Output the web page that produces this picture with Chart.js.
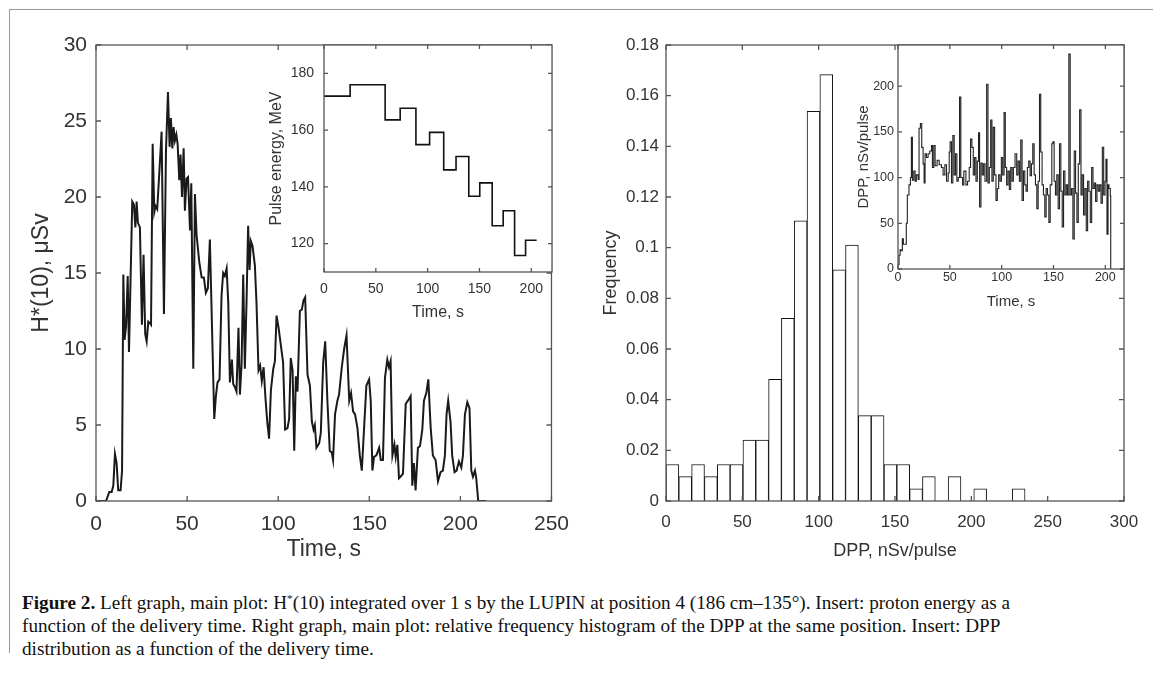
<!DOCTYPE html>
<html>
<head>
<meta charset="utf-8">
<script src="https://cdn.jsdelivr.net/npm/chart.js@4.4.0/dist/chart.umd.min.js"></script>
<style>
  html, body { margin: 0; padding: 0; background: #fff; }
  body { width: 1153px; height: 682px; position: relative; overflow: hidden; }
  canvas { position: absolute; }
  #frame { position: absolute; left: 9px; top: 9px; width: 1150px; height: 643px;
           border-top: 1.5px solid #9a9a9a; border-left: 1.5px solid #9a9a9a; }
  #caption { position: absolute; left: 22px; top: 592px; color: #111;
             font-family: "Liberation Serif", "Times New Roman", serif; font-size: 18.5px; line-height: 23px; }
  #caption div { white-space: nowrap; transform-origin: 0 50%; width: max-content; }
  #caption sup { font-size: 11px; line-height: 0; }
</style>
</head>
<body>
<div id="frame"></div>
<canvas id="doseChart" width="580" height="580" style="left:0;top:0;z-index:1"></canvas>
<canvas id="energyChart" width="340" height="330" style="left:230px;top:0;z-index:2"></canvas>
<canvas id="histChart" width="573" height="580" style="left:580px;top:0;z-index:1"></canvas>
<canvas id="dppChart" width="323" height="320" style="left:830px;top:0;z-index:2"></canvas>
<div id="caption">
  <div><b>Figure 2.</b> Left graph, main plot: H<sup>*</sup>(10) integrated over 1 s by the LUPIN at position 4 (186 cm–135°). Insert: proton energy as a</div>
  <div>function of the delivery time. Right graph, main plot: relative frequency histogram of the DPP at the same position. Insert: DPP</div>
  <div>distribution as a function of the delivery time.</div>
</div>
<script>
// H*(10) per second, main left plot
const doseTime = [
  0, 5.5, 7.3, 8.6, 9.5, 10.4, 11.3, 12.2, 13.5, 14.3,
  15, 15.7, 16.5, 17.4, 18.1, 19.9, 20.8, 21.6, 22.3, 23,
  24.1, 25.2, 26.1, 27, 27.8, 28.7, 29.6, 30.2, 31.1, 32,
  32.7, 33.6, 34.7, 36, 37.3, 38.4, 39.5, 40.4, 41.1, 41.9,
  42.6, 43.3, 44.1, 44.8, 45.7, 46.4, 47.2, 48.1, 48.8, 49.7,
  50.5, 51.6, 52.3, 53.4, 54.3, 55.2, 56.7, 58, 59.2, 60.3,
  61.4, 62.5, 64.9, 65.8, 66.7, 67.8, 68.9, 69.8, 70.7, 71.7,
  72.6, 73.5, 74.6, 75.3, 76.2, 77.1, 78.2, 79, 79.9, 80.8,
  81.7, 82.6, 83.5, 84.3, 85, 85.9, 87.2, 88.1, 89.2, 90.1,
  91, 92, 93, 94, 95, 96, 97.3, 98.2, 99.1, 100.2,
  102.7, 103.8, 105.1, 106, 106.9, 107.9, 108.8, 109.7, 110.6, 111.9,
  113, 113.9, 114.8, 116.1, 117.4, 118.5, 119.4, 120.1, 121, 122.5,
  123.4, 124.7, 125.8, 127, 128.3, 129.4, 130.1, 131.2, 132.5, 133.4,
  134.9, 136.2, 137.5, 139, 140, 141.1, 142.2, 143.5, 144.8, 145.9,
  147.1, 148.4, 149.9, 150.8, 151.7, 152.6, 153.9, 155.4, 156.3, 157.5,
  158.6, 159.9, 160.8, 161.7, 162.7, 163.8, 164.5, 165.4, 166.3, 167.2,
  168.5, 170, 171.2, 172.7, 173.6, 174.5, 175.4, 176.7, 177.8, 179.1,
  180, 181.3, 182.4, 183.7, 184.9, 186.4, 187.7, 189.1, 190.4, 191.5,
  192.4, 193.3, 194.6, 195.5, 196.8, 197.9, 199.2, 200.5, 201.4, 202.5,
  203.8, 205, 206, 206.9, 208, 208.7, 209.8, 214
];
const doseValue = [
  0, 0, 0.6, 0.6, 1.0, 3.1, 2.5, 0.7, 0.7, 2.0,
  14.9, 10.6, 11.5, 14.8, 9.8, 19.7, 19.5, 18.0, 19.7, 18.3,
  18.0, 11.6, 16.2, 11.0, 10.5, 11.8, 11.7, 11.6, 23.5, 19.0,
  19.4, 19.2, 21.5, 24.3, 12.3, 23.0, 26.9, 23.3, 25.2, 23.2,
  24.6, 23.7, 24.1, 23.5, 21.1, 22.8, 20.0, 23.2, 19.1, 21.2,
  21.3, 17.8, 20.9, 8.7, 20.2, 17.5, 15.7, 14.7, 14.7, 13.7,
  14.0, 17.2, 5.4, 6.9, 7.8, 8.0, 13.5, 15.0, 14.8, 15.3,
  13.0, 7.8, 9.3, 7.7, 7.5, 7.2, 11.4, 7.0, 9.0, 14.9,
  8.7, 13.0, 18.1, 15.2, 17.1, 16.8, 15.5, 13.0, 8.6, 8.9,
  7.9, 8.8, 6.8, 5.2, 4.1, 7.3, 8.7, 9.2, 12.2, 11.4,
  9.1, 4.7, 4.8, 5.4, 9.4, 8.6, 3.3, 8.2, 7.2, 12.5,
  12.6, 13.2, 13.4, 8.3, 7.6, 5.2, 4.7, 5.0, 3.5, 3.8,
  4.5, 9.1, 10.5, 6.6, 3.3, 3.2, 2.7, 5.7, 6.6, 7.0,
  8.8, 10.0, 10.9, 6.6, 7.1, 5.9, 5.7, 4.8, 3.0, 2.0,
  4.7, 7.6, 8.0, 6.6, 2.0, 2.9, 3.0, 3.5, 2.7, 2.7,
  8.1, 9.3, 8.8, 9.2, 3.0, 3.7, 2.9, 3.7, 1.5, 1.6,
  1.8, 6.4, 6.6, 6.9, 1.0, 2.5, 0.7, 3.5, 3.6, 4.7,
  6.6, 7.1, 8.0, 4.8, 3.0, 2.7, 1.3, 1.9, 2.0, 3.0,
  5.7, 6.6, 5.2, 3.0, 1.9, 2.0, 2.6, 2.2, 3.0, 5.7,
  6.5, 6.1, 2.0, 1.6, 2.0, 1.5, 0, 0
];
const doseTimeTicks = [0, 50, 100, 150, 200, 250];
const doseTicks = [0, 5, 10, 15, 20, 25, 30];

// pulse energy steps, left insert
const energyTime = [0, 25.2, 59, 73.5, 88.7, 101.9, 115.5, 127.4, 139.7, 150.3, 162.3, 172.9, 183.9, 194.5, 205.2];
const energyValue = [172, 176, 163.6, 167.7, 154.9, 159.2, 146, 150.7, 136.7, 141.4, 126.3, 131.6, 115.8, 121.2, 121.2];
const energyTimeTicks = [0, 50, 100, 150, 200];
const energyTicks = [120, 140, 160, 180];

// DPP histogram, right main plot (bin centres, bin width 8.4)
const dppBins = [4.2, 12.6, 21, 29.4, 37.8, 46.2, 54.6, 63, 71.4, 79.8, 88.2, 96.6, 105, 113.4,
  121.8, 130.2, 138.6, 147, 155.4, 163.8, 172.2, 180.6, 189, 197.4, 205.8, 214.2, 222.6, 231];
const dppFreq = [0.0144, 0.0096, 0.0144, 0.0096, 0.0144, 0.0144, 0.024, 0.024, 0.048, 0.0721, 0.1106, 0.1538, 0.1683, 0.0913,
  0.101, 0.0337, 0.0337, 0.0144, 0.0144, 0.0048, 0.0096, 0, 0.0096, 0, 0.0048, 0, 0, 0.0048];
const dppAxisTicks = [0, 50, 100, 150, 200, 250, 300];
const freqTicks = [0, 0.02, 0.04, 0.06, 0.08, 0.1, 0.12, 0.14, 0.16, 0.18];

// DPP against time, right insert
const dppTime = [
  0, 1, 2, 3, 4.2, 5.2, 6.5, 8, 9, 10.6,
  12, 12.9, 13.9, 15.2, 16.5, 17.7, 19.4, 20.3, 21.6, 22.9,
  24.2, 25.2, 26.1, 27.4, 29, 30.6, 32.3, 33.2, 34.5, 35.8,
  37.7, 39.7, 41.9, 43.5, 45.2, 46.8, 48.4, 49.4, 50.3, 51.6,
  52.9, 54.2, 55.5, 56.8, 58.1, 59.4, 60.6, 62.3, 63.5, 65.5,
  67.1, 68.7, 70, 71.3, 72.6, 73.9, 75.2, 76.5, 77.7, 78.7,
  80, 81.3, 82.6, 83.9, 85.5, 86.8, 88.1, 89.4, 90.6, 91.9,
  93.2, 94.5, 95.8, 97.1, 98.4, 99.7, 101, 102.3, 103.5, 104.8,
  106.1, 107.4, 108.7, 110, 111.3, 112.9, 114.5, 115.8, 117.1, 118.4,
  119.7, 121, 122.3, 123.5, 124.8, 126.1, 127.4, 128.7, 130, 131.3,
  132.6, 133.9, 135.2, 136.5, 137.7, 139, 140.3, 141.6, 142.9, 144.2,
  145.5, 146.8, 148.4, 149.4, 150.6, 151.9, 153.2, 154.5, 155.8, 157.1,
  158.4, 159.7, 161, 162.3, 163.5, 164.8, 166.1, 167.4, 168.7, 170,
  171.3, 172.6, 173.9, 175.2, 176.5, 177.7, 179, 180.3, 181.6, 182.9,
  184.2, 185.5, 186.8, 188.1, 189.4, 190.6, 191.9, 193.2, 194.5, 195.8,
  197.1, 198.4, 199.7, 200.6, 201.6, 202.6, 203.5, 204.8, 205.2
];
const dppValue = [
  5, 15, 21, 20, 33, 27, 27, 50, 81, 92,
  100, 144, 97, 107, 96, 103, 98, 154, 159, 133,
  115, 94, 126, 122, 126, 129, 135, 111, 135, 113,
  119, 114, 111, 103, 114, 96, 105, 128, 139, 94,
  146, 103, 126, 96, 100, 188, 100, 92, 107, 92,
  96, 111, 142, 133, 103, 122, 96, 118, 149, 68,
  116, 103, 115, 96, 202, 94, 111, 163, 96, 155,
  103, 75, 88, 103, 96, 122, 103, 171, 111, 92,
  107, 87, 111, 96, 111, 126, 103, 118, 96, 141,
  75, 107, 92, 85, 111, 118, 102, 115, 137, 103,
  92, 66, 96, 191, 128, 92, 81, 57, 88, 81,
  51, 92, 137, 139, 96, 81, 103, 66, 137, 85,
  46, 107, 81, 92, 81, 235, 81, 88, 33, 129,
  83, 51, 115, 174, 81, 103, 59, 88, 42, 96,
  85, 51, 111, 88, 94, 74, 92, 85, 92, 72,
  133, 81, 96, 120, 38, 92, 88, 80, 0
];
const dppTimeTicks = [0, 50, 100, 150, 200];
const dppTicks = [0, 50, 100, 150, 200];

const FONT = '"Liberation Sans", Arial, Helvetica, sans-serif';
const TEXT = '#333';

function pairs(xs, ys) {
  return xs.map((x, i) => ({ x: x, y: ys[i] }));
}

// MATLAB-style box with inward ticks on all four sides
const boxTicks = {
  id: 'boxTicks',
  beforeDraw(chart, args, opts) {
    if (!opts.fill) return;
    const a = chart.chartArea;
    chart.ctx.save();
    chart.ctx.fillStyle = '#fff';
    chart.ctx.fillRect(a.left, a.top, a.width, a.height);
    chart.ctx.restore();
  },
  afterDraw(chart, args, opts) {
    const { ctx, chartArea: a, scales: { x, y } } = chart;
    const len = opts.len;
    ctx.save();
    ctx.strokeStyle = '#555';
    ctx.lineWidth = 1.3;
    ctx.beginPath();
    x.ticks.forEach(t => {
      const px = x.getPixelForValue(t.value);
      ctx.moveTo(px, a.bottom); ctx.lineTo(px, a.bottom - len);
      ctx.moveTo(px, a.top); ctx.lineTo(px, a.top + len);
    });
    y.ticks.forEach(t => {
      const py = y.getPixelForValue(t.value);
      ctx.moveTo(a.left, py); ctx.lineTo(a.left + len, py);
      ctx.moveTo(a.right, py); ctx.lineTo(a.right - len, py);
    });
    ctx.stroke();
    ctx.strokeRect(a.left, a.top, a.width, a.height);
    ctx.restore();
  }
};

function axis(o) {
  const horizontal = o.horizontal;
  return {
    type: 'linear',
    min: o.min,
    max: o.max,
    offset: false,
    grid: { display: false, drawTicks: false },
    border: { display: false },
    afterBuildTicks: s => {
      s.ticks = o.ticks.map(v => ({ value: v }));
    },
    afterFit: s => {
      if (horizontal) s.height = o.size; else s.width = o.size;
    },
    ticks: {
      autoSkip: false,
      maxRotation: 0,
      padding: o.pad,
      color: TEXT,
      font: { family: FONT, size: o.font },
      callback: v => String(v)
    },
    title: {
      display: true,
      text: o.title,
      color: TEXT,
      font: { family: FONT, size: o.tfont },
      padding: horizontal ? { top: 0, bottom: o.tpad } : { top: o.tpad, bottom: 0 }
    }
  };
}

function baseOptions(pad, scales, tickLen, fill) {
  return {
    responsive: false,
    animation: false,
    devicePixelRatio: 1,
    layout: { padding: pad },
    plugins: {
      legend: { display: false },
      tooltip: { enabled: false },
      boxTicks: { len: tickLen, fill: fill }
    },
    scales: scales
  };
}

new Chart(document.getElementById('doseChart'), {
  type: 'line',
  data: {
    datasets: [{
      data: pairs(doseTime, doseValue),
      borderColor: '#1a1a1a',
      borderWidth: 2,
      pointRadius: 0,
      tension: 0,
      fill: false
    }]
  },
  options: baseOptions({ left: 0, top: 45, right: 28, bottom: 0 }, {
    x: axis({ horizontal: true, min: 0, max: 250, ticks: doseTimeTicks, size: 79, pad: 11, font: 21,
              title: 'Time, s', tfont: 23, tpad: 17 }),
    y: axis({ min: 0, max: 30, ticks: doseTicks, size: 96, pad: 9, font: 21,
              title: 'H*(10), μSv', tfont: 23, tpad: 28 })
  }, 5, false),
  plugins: [boxTicks]
});

new Chart(document.getElementById('energyChart'), {
  type: 'line',
  data: {
    datasets: [{
      data: pairs(energyTime, energyValue),
      stepped: 'before',
      borderColor: '#111',
      borderWidth: 1.6,
      pointRadius: 0,
      fill: false
    }]
  },
  options: baseOptions({ left: 0, top: 45, right: 18, bottom: 0 }, {
    x: axis({ horizontal: true, min: 0, max: 220, ticks: energyTimeTicks, size: 58, pad: 9, font: 14,
              title: 'Time, s', tfont: 16, tpad: 8 }),
    y: axis({ min: 110, max: 190, ticks: energyTicks, size: 94, pad: 10, font: 14,
              title: 'Pulse energy, MeV', tfont: 16, tpad: 37 })
  }, 4, true),
  plugins: [boxTicks]
});

new Chart(document.getElementById('histChart'), {
  type: 'bar',
  data: {
    datasets: [{
      data: pairs(dppBins, dppFreq),
      backgroundColor: '#fff',
      borderColor: '#111',
      borderWidth: 1,
      barPercentage: 1,
      categoryPercentage: 1
    }]
  },
  options: baseOptions({ left: 0, top: 45, right: 29, bottom: 0 }, {
    x: axis({ horizontal: true, min: 0, max: 300, ticks: dppAxisTicks, size: 79, pad: 11, font: 17,
              title: 'DPP, nSv/pulse', tfont: 18, tpad: 18 }),
    y: axis({ min: 0, max: 0.18, ticks: freqTicks, size: 86, pad: 7, font: 17,
              title: 'Frequency', tfont: 18, tpad: 20 })
  }, 5, false),
  plugins: [boxTicks]
});

new Chart(document.getElementById('dppChart'), {
  type: 'line',
  data: {
    datasets: [{
      data: pairs(dppTime, dppValue),
      stepped: 'before',
      borderColor: '#222',
      borderWidth: 1.1,
      pointRadius: 0,
      fill: false
    }]
  },
  options: baseOptions({ left: 0, top: 45, right: 29, bottom: 0 }, {
    x: axis({ horizontal: true, min: 0, max: 218, ticks: dppTimeTicks, size: 51, pad: 1, font: 12.5,
              title: 'Time, s', tfont: 15, tpad: 9 }),
    y: axis({ min: 0, max: 245, ticks: dppTicks, size: 68, pad: 4, font: 12.5,
              title: 'DPP, nSv/pulse', tfont: 15, tpad: 25 })
  }, 4, true),
  plugins: [boxTicks]
});

// squeeze the caption like the condensed serif of the figure, same factor for every line
const lines = document.querySelectorAll('#caption div');
const k = 988 / lines[0].getBoundingClientRect().width;
lines.forEach(l => { l.style.transform = 'scaleX(' + k + ')'; });
</script>
</body>
</html>
